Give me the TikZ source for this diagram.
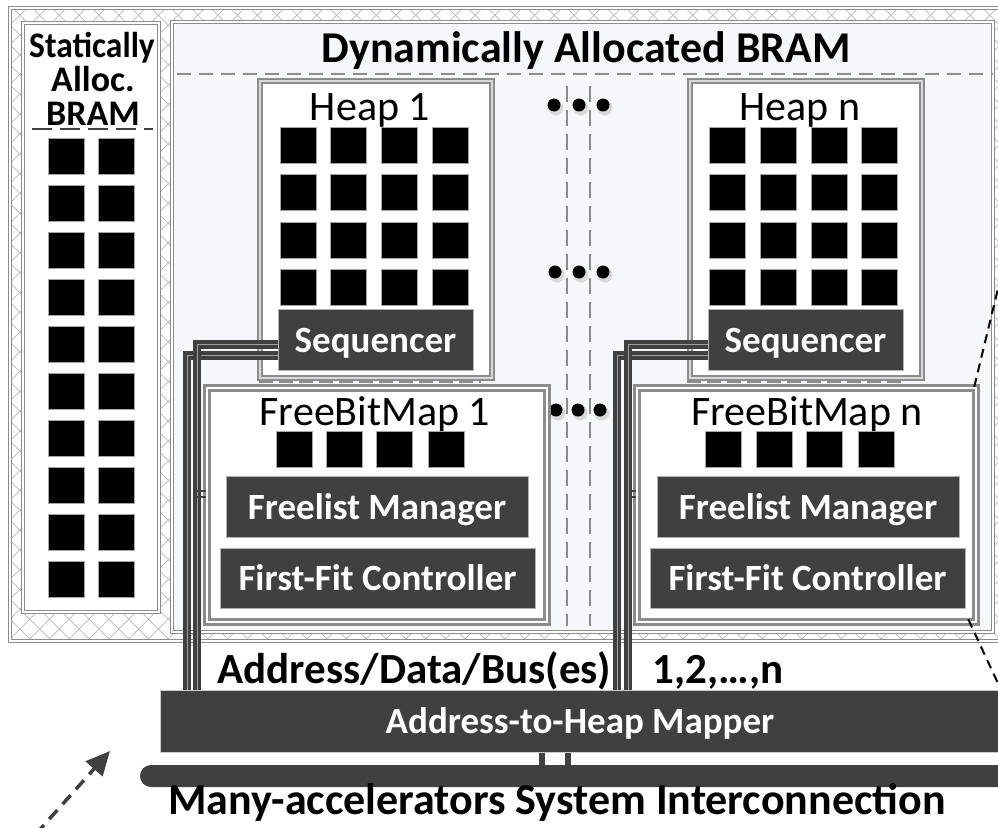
\documentclass[tikz,border=0pt]{standalone}
\usepackage{fontspec}
\setmainfont{Carlito}
\usetikzlibrary{patterns.meta,arrows.meta}
\definecolor{dk}{HTML}{404040}
\definecolor{gr}{HTML}{8C8C8C}
\definecolor{lt}{HTML}{F6F7FB}
\newcommand\myfs[1]{\fontsize{#1}{#1}\selectfont}
\begin{document}
\begin{tikzpicture}[x=1pt,y=-1pt,
  sq/.style={fill=black,draw=gray!70,line width=0.8pt,minimum size=36pt,inner sep=0pt},
  dkbox/.style={fill=dk,draw=gray!60,line width=1pt,text=white,font=\myfs{37}\bfseries,inner sep=0pt,text height=25pt,text depth=0pt},
  thinframe/.style={draw=gr,double=white,double distance=2pt,line width=1pt,inner sep=0pt},
  heapbox/.style={draw=gr,double=gray!30,double distance=1.2pt,line width=2.5pt,fill=white,inner sep=0pt},
  fbmbox/.style={draw=gr,double=white,double distance=2.5pt,line width=2.5pt,fill=white,inner sep=0pt},
  lbl/.style={anchor=base,font=\myfs{42}},
  blbl/.style={anchor=base,font=\myfs{43}\bfseries},
  sttl/.style={anchor=base,font=\myfs{36}\bfseries,inner sep=0pt},
  wire/.style={draw=dk,line width=8.5pt},
  wirehl/.style={draw=gray!75,line width=0.8pt},
  stub/.style={draw=dk,line width=2.2pt},
  gdash/.style={draw=gr,line width=2pt,dash pattern=on 14pt off 8pt},
  proj/.style={draw=black,line width=2pt,dash pattern=on 9pt off 6pt},
  dotc/.style={fill=black},
  dotsh/.style={fill=gray!45,opacity=0.6}
]
\useasboundingbox (0,0) rectangle (998,827);
\fill[white] (0,0) rectangle (998,827);
% outer crosshatched frame
\path[pattern={Lines[angle=45,distance=14pt,line width=0.7pt]},pattern color=gray!55] (10,8) rectangle (1012,641);
\path[pattern={Lines[angle=-45,distance=14pt,line width=0.7pt]},pattern color=gray!55] (10,8) rectangle (1012,641);
\draw[gr,double=white,double distance=1.5pt,line width=1pt] (10,8) rectangle (1012,641);

% statically allocated region
\node[thinframe,fill=white,minimum width=136pt,minimum height=589pt] (static) at (91,317.5) {};
\node[sttl] (st1) at (92,57) {\scalebox{0.93}[1]{Statically}};
\node[sttl] (st2) at (93,91) {Alloc.};
\node[sttl] (st3) at (93,125) {BRAM};
\draw[draw=dk,line width=1.5pt,dash pattern=on 20pt off 8pt] (32,129) -- (153,129);
\foreach \y [count=\j] in {156,203,250,297,344,391,438,485,532,579}{
  \node[sq] (ss1\j) at (66,\y) {};
  \node[sq] (ss2\j) at (116,\y) {};
}

% dynamically allocated region
\node[thinframe,fill=lt,minimum width=821pt,minimum height=610pt] (dyn) at (582.5,327) {};
\node[blbl,font=\myfs{44}\bfseries] (dyntitle) at (586,62) {Dynamically Allocated BRAM};
\draw[gdash] (177,74) -- (993,74);

% separators and dots
\draw[gdash,dash pattern=on 16pt off 8pt] (567,86) -- (567,626);
\draw[gdash,dash pattern=on 16pt off 8pt] (590,86) -- (590,626);
\foreach \x/\y in {554/105,579/105,603/105,555/272,579/272,603/272,556/410,578/410,600/410}{
  \fill[dotsh] (\x+2,\y+3) circle[radius=7.5pt];
  \fill[dotc] (\x,\y) circle[radius=6.5pt];
}

% heaps
\node[heapbox,minimum width=232pt,minimum height=297pt] (heap1) at (376,229.5) {};
\node[heapbox,minimum width=232pt,minimum height=297pt] (heapn) at (806,229.5) {};
\draw[gdash,dash pattern=on 14pt off 6pt] ([yshift=-3pt]heap1.south west) -- ([yshift=-3pt,xshift=-12pt]heap1.south east);
\draw[gdash,dash pattern=on 14pt off 6pt] ([yshift=-3pt,xshift=-2pt]heapn.south west) -- ([yshift=-3pt,xshift=-17pt]heapn.south east);
\node[lbl] (heap1lbl) at (370,120) {Heap 1};
\node[lbl] (heapnlbl) at (800,120) {Heap n};
\foreach \x [count=\i] in {298,348.5,399,450}{
  \foreach \y [count=\j] in {145,192.5,240,287.5}{
    \node[sq] (ha\i\j) at (\x,\y) {};
  }
}
\foreach \x [count=\i] in {727,778,829,879}{
  \foreach \y [count=\j] in {145,192.5,240,287.5}{
    \node[sq] (hb\i\j) at (\x,\y) {};
  }
}
\node[dkbox,minimum width=195pt,minimum height=61pt] (seq1) at (375.5,339.5) {Sequencer};
\node[dkbox,minimum width=195pt,minimum height=61pt] (seqn) at (805.5,339.5) {Sequencer};

% free bit maps
\node[fbmbox,minimum width=340pt,minimum height=234pt] (fbm1) at (377,505) {};
\node[fbmbox,minimum width=339pt,minimum height=234pt] (fbmn) at (806.5,505) {};
\node[lbl] (fbm1lbl) at (375,425) {FreeBitMap 1};
\node[lbl] (fbmnlbl) at (807,425) {FreeBitMap n};
\foreach \x [count=\i] in {294,344,394.5,446}{\node[sq] (fa\i) at (\x,449.5) {};}
\foreach \x [count=\i] in {723.5,774,824.5,876}{\node[sq] (fb\i) at (\x,449.5) {};}
\node[dkbox,minimum width=302pt,minimum height=61pt] (flm1) at (377,506.5) {Freelist Manager};
\node[dkbox,minimum width=302pt,minimum height=61pt] (flmn) at (808,506.5) {Freelist Manager};
\node[dkbox,minimum width=315pt,minimum height=60pt] (ffc1) at (377.5,578) {First-Fit Controller};
\node[dkbox,minimum width=315pt,minimum height=60pt] (ffcn) at (807.5,578) {First-Fit Controller};

% mapper and interconnect
\node[dkbox,draw=gray!40,minimum width=850pt,minimum height=62pt] (mapper) at (585,721) {\hspace*{-10pt}Address-to-Heap Mapper};
\node[fill=dk,rounded corners=11pt,minimum width=872pt,minimum height=22pt,inner sep=0pt] (bus) at (576,776) {};
\draw[draw=dk,line width=6pt] (mapper.south -| 542,0) -- (bus.north -| 542,0);
\draw[draw=dk,line width=6pt] (mapper.south -| 568,0) -- (bus.north -| 568,0);

% wires from sequencers to mapper
\draw[wire] ([yshift=-16pt]seq1.west) -| (mapper.north -| 187,0);
\draw[wirehl] ([yshift=-16pt]seq1.west) -| (mapper.north -| 187,0);
\draw[wire] ([yshift=-5pt]seq1.west) -| (mapper.north -| 197,0);
\draw[wirehl] ([yshift=-5pt]seq1.west) -| (mapper.north -| 197,0);
\draw[wire] ([yshift=-16pt]seqn.west) -| (mapper.north -| 617,0);
\draw[wirehl] ([yshift=-16pt]seqn.west) -| (mapper.north -| 617,0);
\draw[wire] ([yshift=-5pt]seqn.west) -| (mapper.north -| 628,0);
\draw[wirehl] ([yshift=-5pt]seqn.west) -| (mapper.north -| 628,0);
\draw[stub] ([yshift=14pt]fbm1.west) -- ++(-9,0);
\draw[stub] ([yshift=8pt]fbm1.west) -- ++(-9,0);
\draw[stub] ([yshift=14pt]fbmn.west) -- ++(-7,0);
\draw[stub] ([yshift=8pt]fbmn.west) -- ++(-7,0);

% labels
\node[blbl] (adb) at (414.5,683) {Address/Data/Bus(es)};
\node[blbl] (nums) at (718,683) {1,2,…,n};
\node[blbl,font=\myfs{44}\bfseries] (mai) at (557,814) {Many-accelerators System Interconnection};

% projection lines and arrow
\coordinate (p1) at (1001,276);
\coordinate (p2) at (1002,692);
\draw[proj] (p1) -- ([xshift=-3pt]fbmn.north east);
\draw[proj] ([xshift=-9pt,yshift=4pt]fbmn.south east) -- (p2);
\coordinate (a0) at (36,834);
\coordinate (a1) at (110,751);
\draw[draw=dk,line width=3.5pt,dash pattern=on 12pt off 8pt,-{Triangle[length=24pt,width=22pt]}] (a0) -- (a1);
\end{tikzpicture}
\end{document}
